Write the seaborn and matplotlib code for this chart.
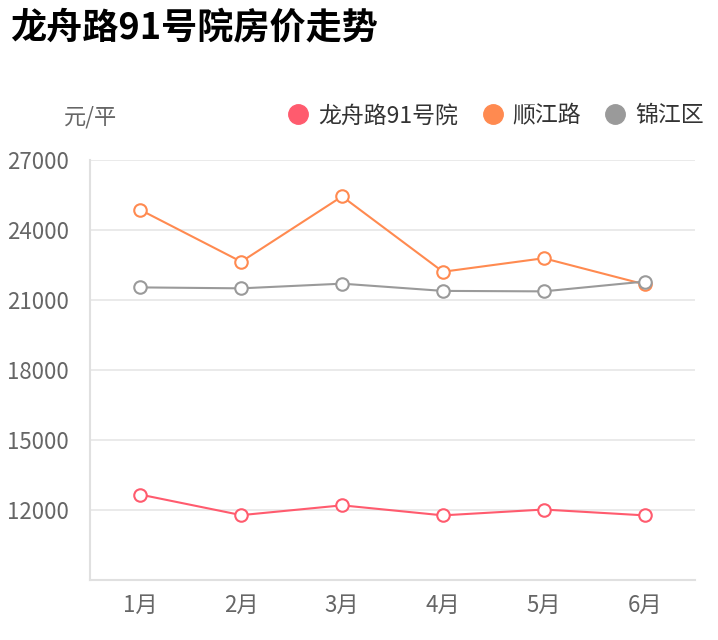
import pandas as pd
import matplotlib.pyplot as plt
import seaborn as sns
from matplotlib.lines import Line2D

months = ['1月', '2月', '3月', '4月', '5月', '6月']
longzhou = [12660, 11780, 12200, 11770, 12020, 11770]
shunjiang = [24860, 22640, 25440, 22210, 22790, 21670]
jinjiang = [21540, 21500, 21700, 21390, 21370, 21790]

series_names = ['龙舟路91号院', '顺江路', '锦江区']
colors = ['#ff5b6e', '#ff8a50', '#9a9a9a']
y_ticks = [12000, 15000, 18000, 21000, 24000, 27000]

sns.set_style('white')
plt.rcParams['font.family'] = ['Noto Sans CJK SC', 'DejaVu Sans']

fig = plt.figure(figsize=(7.18, 6.4), dpi=100)
ax = fig.add_axes([90 / 718, 60 / 640, 605 / 718, 420 / 640])

for name, vals, c in zip(series_names, [longzhou, shunjiang, jinjiang], colors):
    df = pd.DataFrame({'month': months, 'price': vals})
    sns.lineplot(data=df, x='month', y='price', ax=ax, sort=False, color=c,
                 linewidth=1.5, marker='o', markersize=9,
                 markerfacecolor='white', markeredgecolor=c, markeredgewidth=1.5)

ax.set_xlim(-0.5, 5.5)
ax.set_ylim(9000, 27000)
ax.set_yticks(y_ticks)
ax.set_yticklabels([str(v) for v in y_ticks])
ax.set_xlabel('')
ax.set_ylabel('')
ax.grid(axis='y', color='#e6e6e6', linewidth=1.2)
ax.set_axisbelow(True)
for side in ['top', 'right']:
    ax.spines[side].set_visible(False)
for side in ['left', 'bottom']:
    ax.spines[side].set_color('#e0e0e0')
    ax.spines[side].set_linewidth(1.5)
ax.tick_params(axis='both', length=0, labelsize=16, colors='#666666')
ax.tick_params(axis='x', pad=10)
ax.tick_params(axis='y', pad=15)

fig.text(10 / 718, 1 - 28 / 640, '龙舟路91号院房价走势', fontsize=26, fontweight='bold',
         color='black', va='center', ha='left')
fig.text(64 / 718, 1 - 117 / 640, '元/平', fontsize=16, color='#666666', va='center', ha='left')

handles = [Line2D([], [], linestyle='none', marker='o', markersize=14,
                  markerfacecolor=c, markeredgecolor=c) for c in colors]
fig.legend(handles, series_names, loc='center right', bbox_to_anchor=(704 / 718, 1 - 116 / 640),
           ncol=3, frameon=False, fontsize=16.5, handlelength=1.0, handletextpad=0.37,
           columnspacing=1.0, labelcolor='#333333', borderaxespad=0, borderpad=0)

fig.savefig('out.png', dpi=100)
